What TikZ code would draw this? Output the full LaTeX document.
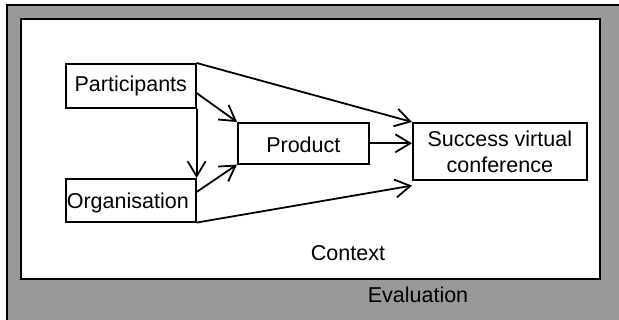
\documentclass[tikz,border=0pt]{standalone}
\usepackage{fontspec}
\setmainfont{Liberation Sans}
\usetikzlibrary{arrows.meta}
\definecolor{evalgray}{RGB}{153,153,153}
\tikzset{
  box/.style={draw=black, line width=1.6pt, fill=white, inner sep=0pt, align=center},
  conn/.style={line width=1.8pt, -{Straight Barb[length=15pt,width=18pt,line width=1.8pt]}},
  lbl/.style={font=\fontsize{21.5pt}{26pt}\selectfont, inner sep=0pt}
}
\begin{document}
\begin{tikzpicture}[x=1pt,y=-1pt]
\useasboundingbox (0,0) rectangle (619,320);
\clip (0,0) rectangle (619,320);
% outer (Evaluation) frame
\draw[line width=2pt, fill=evalgray] (6.5,5.5) rectangle (640,340);
% inner (Context) frame
\draw[line width=2pt, fill=white] (21,19) rectangle (599.5,279.5);
% boxes
\node[box, minimum width=130pt, minimum height=44pt, anchor=north west] (part) at (65,63) {};
\node[lbl] at (part.center) {Participants};
\node[box, minimum width=130pt, minimum height=43pt, anchor=north west] (org) at (65,178) {};
\node[lbl] at ([xshift=-3pt,yshift=-3pt]org.center) {Organisation};
\node[box, minimum width=131pt, minimum height=41pt, anchor=north west] (prod) at (237,122) {};
\node[lbl] at ([yshift=-2pt]prod.center) {Product};
\node[box, minimum width=174pt, minimum height=57pt, anchor=north west] (succ) at (412,122) {};
\node[lbl, align=center] at ([xshift=0pt,yshift=-1pt]succ.center) {Success virtual\\conference};
% labels
\node[lbl] (ctx) at (348,253) {Context};
\node[lbl] (eval) at (418,295) {Evaluation};
% connectors
\coordinate (succA) at ([yshift=0pt]succ.north west);
\coordinate (succB) at ([yshift=-5pt]succ.south west);
\draw[conn] (part.north east) -- (succA);
\draw[conn] ([yshift=-30pt]part.north east) -- (prod.north west);
\draw[conn] (part.south east) -- (org.north east);
\draw[conn] ([yshift=-14pt]org.north east) -- (prod.south west);
\draw[conn] (org.south east) -- (succB);
\draw[conn] (prod.east) -- (prod.east -| succ.west);
\end{tikzpicture}
\end{document}
